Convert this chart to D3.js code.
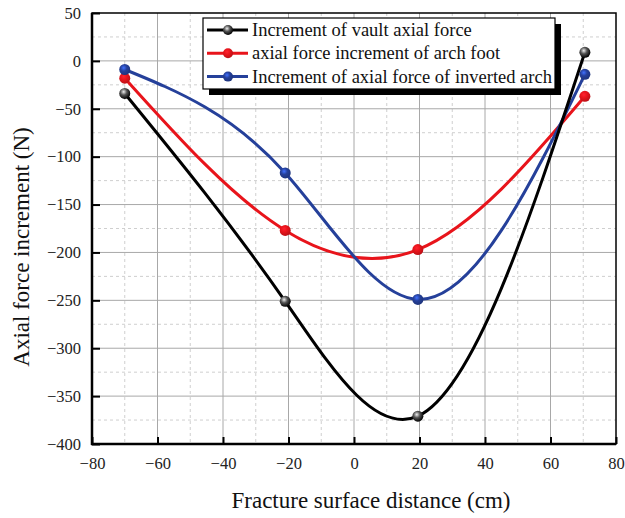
<!DOCTYPE html>
<html><head><meta charset="utf-8">
<script src="https://cdn.jsdelivr.net/npm/d3@7"></script>
<style>body{margin:0;background:#fff}svg{display:block}</style>
</head><body><svg id="c" width="625" height="518"></svg>
<script>
const xValues = [-70, -21, 19.5, 70.5];
const vaultValues = [-34, -251, -371, 9];
const footValues = [-18, -177, -197, -37];
const invertedValues = [-9, -117, -249, -14];
const seriesNames = ["Increment of vault axial force", "axial force increment of arch foot", "Increment of axial force of inverted arch"];
const seriesColors = ["#000000", "#e8141b", "#25409a"];
const xTicks = [-80, -60, -40, -20, 0, 20, 40, 60, 80];
const yTicks = [50, 0, -50, -100, -150, -200, -250, -300, -350, -400];
const xTitle = "Fracture surface distance (cm)";
const yTitle = "Axial force increment (N)";

// natural cubic spline y(x) as a d3 curve factory (like Origin's "Spline" connection)
function curveNaturalX(context) {
  let pts;
  return {
    lineStart() { pts = []; },
    lineEnd() {
      const n = pts.length;
      if (n === 0) return;
      context.moveTo(pts[0][0], pts[0][1]);
      if (n === 1) return;
      if (n === 2) { context.lineTo(pts[1][0], pts[1][1]); return; }
      const X = pts.map(p => p[0]), Y = pts.map(p => p[1]);
      const h = [];
      for (let i = 0; i < n - 1; i++) h.push(X[i + 1] - X[i]);
      const a = new Array(n).fill(0), b = new Array(n).fill(1), c = new Array(n).fill(0), r = new Array(n).fill(0);
      for (let i = 1; i < n - 1; i++) {
        a[i] = h[i - 1]; b[i] = 2 * (h[i - 1] + h[i]); c[i] = h[i];
        r[i] = 6 * ((Y[i + 1] - Y[i]) / h[i] - (Y[i] - Y[i - 1]) / h[i - 1]);
      }
      for (let i = 1; i < n; i++) {
        const m = a[i] / b[i - 1];
        b[i] -= m * c[i - 1]; r[i] -= m * r[i - 1];
      }
      const M = new Array(n);
      M[n - 1] = r[n - 1] / b[n - 1];
      for (let i = n - 2; i >= 0; i--) M[i] = (r[i] - c[i] * M[i + 1]) / b[i];
      for (let i = 0; i < n - 1; i++) {
        const hi = h[i];
        const d0 = (Y[i + 1] - Y[i]) / hi - hi * (2 * M[i] + M[i + 1]) / 6;
        const d1 = (Y[i + 1] - Y[i]) / hi + hi * (M[i] + 2 * M[i + 1]) / 6;
        context.bezierCurveTo(X[i] + hi / 3, Y[i] + d0 * hi / 3,
          X[i + 1] - hi / 3, Y[i + 1] - d1 * hi / 3, X[i + 1], Y[i + 1]);
      }
    },
    point(x, y) { pts.push([+x, +y]); },
    areaStart() {}, areaEnd() {}
  };
}

const svg = d3.select("#c");
const L = 92, R = 616, T = 13, B = 444;
const x = d3.scaleLinear().domain([-80, 80]).range([L, R]);
const y = d3.scaleLinear().domain([-400, 50]).range([B, T]);
const font = "'Liberation Serif','Times New Roman',serif";

const defs = svg.append("defs");
seriesColors.forEach((c, i) => {
  const g = defs.append("radialGradient").attr("id", "g" + i).attr("cx", "40%").attr("cy", "35%").attr("r", "65%");
  g.append("stop").attr("offset", "0%").attr("stop-color", i === 0 ? "#eeeeee" : d3.color(c).brighter(1.6));
  g.append("stop").attr("offset", "45%").attr("stop-color", i === 0 ? "#555" : c);
  g.append("stop").attr("offset", "100%").attr("stop-color", d3.color(c).darker(0.6));
});

// grid
const gGrid = svg.append("g");
const minorX = d3.range(-70, 80, 20);
const minorY = d3.range(25, -400, -50);
gGrid.selectAll(".mx").data(minorX).enter().append("line")
  .attr("x1", d => x(d)).attr("x2", d => x(d)).attr("y1", T).attr("y2", B)
  .attr("stroke", "#cfcfcf").attr("stroke-width", 1).attr("stroke-dasharray", "3,3");
gGrid.selectAll(".my").data(minorY).enter().append("line")
  .attr("y1", d => y(d)).attr("y2", d => y(d)).attr("x1", L).attr("x2", R)
  .attr("stroke", "#cfcfcf").attr("stroke-width", 1).attr("stroke-dasharray", "3,3");
gGrid.selectAll(".Mx").data(xTicks.slice(1, -1)).enter().append("line")
  .attr("x1", d => x(d)).attr("x2", d => x(d)).attr("y1", T).attr("y2", B)
  .attr("stroke", "#a8a8a8").attr("stroke-width", 1);
gGrid.selectAll(".My").data(yTicks.slice(1, -1)).enter().append("line")
  .attr("y1", d => y(d)).attr("y2", d => y(d)).attr("x1", L).attr("x2", R)
  .attr("stroke", "#a8a8a8").attr("stroke-width", 1);

// axes
const xAxis = d3.axisBottom(x).tickValues(xTicks).tickSizeInner(-7).tickSizeOuter(0).tickPadding(13)
  .tickFormat(d => d < 0 ? "\u2212" + Math.abs(d) : d);
const yAxis = d3.axisLeft(y).tickValues(yTicks).tickSizeInner(-8).tickSizeOuter(0).tickPadding(11)
  .tickFormat(d => d < 0 ? "\u2212" + Math.abs(d) : d);
const gx = svg.append("g").attr("transform", `translate(0,${B})`).call(xAxis);
const gy = svg.append("g").attr("transform", `translate(${L},0)`).call(yAxis);
[gx, gy].forEach(g => {
  g.select(".domain").remove();
  g.selectAll(".tick line").attr("stroke", "#000").attr("stroke-width", 2);
  g.selectAll("text").attr("font-family", font).attr("font-size", 16.5).attr("fill", "#222");
});
// frame
svg.append("rect").attr("x", L).attr("y", T).attr("width", R - L).attr("height", B - T)
  .attr("fill", "none").attr("stroke", "#000").attr("stroke-width", 1.5);
svg.append("line").attr("x1", L).attr("x2", L).attr("y1", T).attr("y2", B + 1).attr("stroke", "#000").attr("stroke-width", 2.5);
svg.append("line").attr("x1", L - 1).attr("x2", R).attr("y1", B).attr("y2", B).attr("stroke", "#000").attr("stroke-width", 2.5);

// series
const all = [vaultValues, footValues, invertedValues];
const line = d3.line().x(d => x(d[0])).y(d => y(d[1])).curve(curveNaturalX);
const order = [1, 2, 0];
order.forEach(i => {
  const pts = xValues.map((xv, k) => [xv, all[i][k]]);
  svg.append("path").attr("d", line(pts)).attr("fill", "none")
    .attr("stroke", seriesColors[i]).attr("stroke-width", 3);
});
order.forEach(i => {
  const pts = xValues.map((xv, k) => [xv, all[i][k]]);
  svg.selectAll(null).data(pts).enter().append("circle")
    .attr("cx", d => x(d[0])).attr("cy", d => y(d[1])).attr("r", 5.5)
    .attr("fill", `url(#g${i})`);
});

// legend
const lx = 203, ly = 18, lw = 352, lh = 71;
svg.append("rect").attr("x", lx + 6).attr("y", ly + 6).attr("width", lw).attr("height", lh).attr("fill", "#000");
svg.append("rect").attr("x", lx).attr("y", ly).attr("width", lw).attr("height", lh)
  .attr("fill", "#fff").attr("stroke", "#000").attr("stroke-width", 1.2);
seriesNames.forEach((n, i) => {
  const yy = ly + 12 + i * 23.3;
  svg.append("line").attr("x1", lx + 4).attr("x2", lx + 45).attr("y1", yy).attr("y2", yy)
    .attr("stroke", seriesColors[i]).attr("stroke-width", 3);
  svg.append("circle").attr("cx", lx + 25).attr("cy", yy).attr("r", 5).attr("fill", `url(#g${i})`);
  svg.append("text").attr("x", lx + 49).attr("y", yy + 6).text(n)
    .attr("font-family", font).attr("font-size", 18.5).attr("fill", "#111");
});

// titles
svg.append("text").attr("x", 371).attr("y", 508).attr("text-anchor", "middle")
  .attr("font-family", font).attr("font-size", 23).attr("fill", "#111").text(xTitle);
svg.append("text").attr("transform", "translate(29,247) rotate(-90)").attr("text-anchor", "middle")
  .attr("font-family", font).attr("font-size", 23).attr("fill", "#111").text(yTitle);
</script></body></html>
